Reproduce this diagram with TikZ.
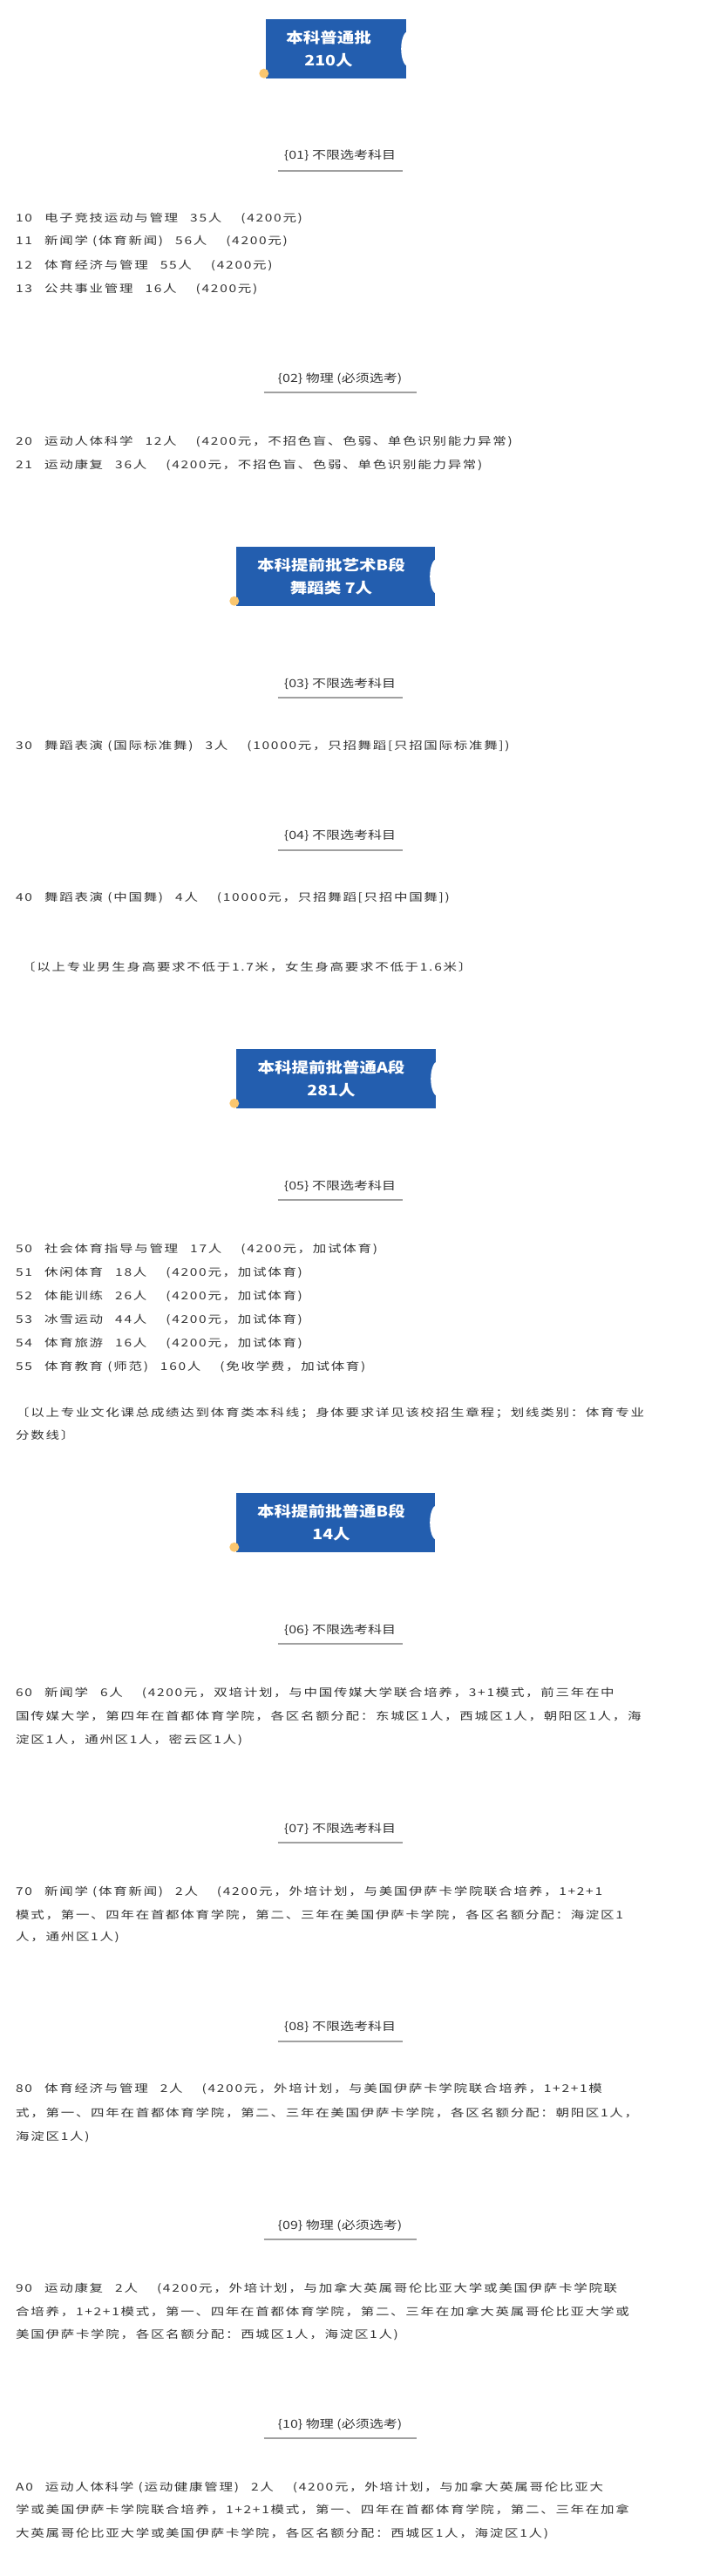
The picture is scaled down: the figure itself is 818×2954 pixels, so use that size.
\documentclass[tikz,border=0pt]{standalone}
\usepackage{fontspec}
\usepackage{graphicx}
\newfontfamily\cjkb[LetterSpace=11]{Noto Sans CJK SC}
\newfontfamily\cjk{Noto Sans CJK SC}
\definecolor{hblue}{RGB}{35,94,175}
\definecolor{dotc}{RGB}{250,198,110}
\definecolor{txt}{RGB}{51,51,51}
\definecolor{rule}{RGB}{160,160,160}
\tikzset{
 body/.style={anchor=west,inner sep=0pt,text=txt,font=\cjkb\fontsize{15.5}{18}\selectfont},
 sub/.style={inner sep=0pt,text=txt,font=\cjk\fontsize{16}{18}\selectfont},
 hbox/.style={fill=hblue,inner sep=0pt},
 htxt/.style={inner sep=0pt,text=white,align=center,font=\cjk\bfseries\fontsize{19.5}{28}\selectfont},
 uline/.style={draw=rule,line width=1.3pt},
}
\newcommand\tl[3]{\node[body] (#1) at (18,#2) {\scalebox{1}[0.79]{#3}};}
\newcommand\gapa{\hspace{14pt}}
\newcommand\gapb{\hspace{22pt}}
\newcommand\hd[7]{% name, cx, cy, w, textcx, line1, line2
 \node[hbox,minimum width=#4pt,minimum height=68pt] (#1) at (#2,#3) {};
 \fill[white] (#1.east) ++(2,0) ellipse [x radius=8, y radius=20];
 \fill[dotc] (#1.south west) ++(-2,-6) circle [radius=5.5];
 \node[htxt] (#1t) at (#5,#3) {\scalebox{1}[0.85]{#6}\\[-2pt]\scalebox{1}[0.85]{#7}};}
\newcommand\sh[5]{% name, y text, y line, halfwidth, text
 \node[sub] (#1) at (390,#2) {\scalebox{1}[0.8]{#5}};
 \coordinate (#1a) at (390-#4,#3); \coordinate (#1b) at (390+#4,#3);
 \draw[uline] (#1a) -- (#1b);}
\begin{document}
\begin{tikzpicture}[x=1pt,y=-1pt]
\useasboundingbox (0,0) rectangle (818,2954);
\hd{h1}{385.5}{56}{161}{377}{本科普通批}{210人}
\sh{s1}{178}{196}{71.5}{\{01\} 不限选考科目}
\tl{a1}{251}{10\gapa 电子竞技运动与管理\gapa 35人\gapb (4200元)}
\tl{a2}{277}{11\gapa 新闻学 (体育新闻)\gapa 56人\gapb (4200元)}
\tl{a3}{305}{12\gapa 体育经济与管理\gapa 55人\gapb (4200元)}
\tl{a4}{332}{13\gapa 公共事业管理\gapa 16人\gapb (4200元)}
\sh{s2}{434}{450}{87.5}{\{02\} 物理 (必须选考)}
\tl{b1}{506}{20\gapa 运动人体科学\gapa 12人\gapb (4200元，不招色盲、色弱、单色识别能力异常)}
\tl{b2}{533}{21\gapa 运动康复\gapa 36人\gapb (4200元，不招色盲、色弱、单色识别能力异常)}
\hd{h2}{385}{661}{228}{380}{本科提前批艺术B段}{舞蹈类 7人}
\sh{s3}{784}{800}{71.5}{\{03\} 不限选考科目}
\tl{c1}{856}{30\gapa 舞蹈表演 (国际标准舞)\gapa 3人\gapb (10000元，只招舞蹈[只招国际标准舞])}
\sh{s4}{958}{975}{71.5}{\{04\} 不限选考科目}
\tl{d1}{1030}{40\gapa 舞蹈表演 (中国舞)\gapa 4人\gapb (10000元，只招舞蹈[只招中国舞])}
\node[body] (n1) at (25,1109) {\scalebox{1}[0.79]{〔以上专业男生身高要求不低于1.7米，女生身高要求不低于1.6米〕}};
\hd{h3}{385.5}{1237}{229}{380}{本科提前批普通A段}{281人}
\sh{s5}{1360}{1376}{71.5}{\{05\} 不限选考科目}
\tl{e1}{1432}{50\gapa 社会体育指导与管理\gapa 17人\gapb (4200元，加试体育)}
\tl{e2}{1459}{51\gapa 休闲体育\gapa 18人\gapb (4200元，加试体育)}
\tl{e3}{1486}{52\gapa 体能训练\gapa 26人\gapb (4200元，加试体育)}
\tl{e4}{1513}{53\gapa 冰雪运动\gapa 44人\gapb (4200元，加试体育)}
\tl{e5}{1540}{54\gapa 体育旅游\gapa 16人\gapb (4200元，加试体育)}
\tl{e6}{1567}{55\gapa 体育教育 (师范)\gapa 160人\gapb (免收学费，加试体育)}
\tl{n2}{1620}{〔以上专业文化课总成绩达到体育类本科线；身体要求详见该校招生章程；划线类别：体育专业}
\tl{n3}{1646}{分数线〕}
\hd{h4}{385}{1746}{228}{380}{本科提前批普通B段}{14人}
\sh{s6}{1869}{1885}{71.5}{\{06\} 不限选考科目}
\tl{f1}{1941}{60\gapa 新闻学\gapa 6人\gapb (4200元，双培计划，与中国传媒大学联合培养，3+1模式，前三年在中}
\tl{f2}{1968}{国传媒大学，第四年在首都体育学院，各区名额分配：东城区1人，西城区1人，朝阳区1人，海}
\tl{f3}{1995}{淀区1人，通州区1人，密云区1人)}
\sh{s7}{2097}{2113}{71.5}{\{07\} 不限选考科目}
\tl{g1}{2169}{70\gapa 新闻学 (体育新闻)\gapa 2人\gapb (4200元，外培计划，与美国伊萨卡学院联合培养，1+2+1}
\tl{g2}{2196}{模式，第一、四年在首都体育学院，第二、三年在美国伊萨卡学院，各区名额分配：海淀区1}
\tl{g3}{2222}{人，通州区1人)}
\sh{s8}{2324}{2341}{71.5}{\{08\} 不限选考科目}
\tl{k1}{2395}{80\gapa 体育经济与管理\gapa 2人\gapb (4200元，外培计划，与美国伊萨卡学院联合培养，1+2+1模}
\tl{k2}{2423}{式，第一、四年在首都体育学院，第二、三年在美国伊萨卡学院，各区名额分配：朝阳区1人，}
\tl{k3}{2450}{海淀区1人)}
\sh{s9}{2552}{2568}{87.5}{\{09\} 物理 (必须选考)}
\tl{m1}{2624}{90\gapa 运动康复\gapa 2人\gapb (4200元，外培计划，与加拿大英属哥伦比亚大学或美国伊萨卡学院联}
\tl{m2}{2651}{合培养，1+2+1模式，第一、四年在首都体育学院，第二、三年在加拿大英属哥伦比亚大学或}
\tl{m3}{2677}{美国伊萨卡学院，各区名额分配：西城区1人，海淀区1人)}
\sh{s10}{2780}{2796}{87.5}{\{10\} 物理 (必须选考)}
\tl{p1}{2852}{A0\gapa 运动人体科学 (运动健康管理)\gapa 2人\gapb (4200元，外培计划，与加拿大英属哥伦比亚大}
\tl{p2}{2878}{学或美国伊萨卡学院联合培养，1+2+1模式，第一、四年在首都体育学院，第二、三年在加拿}
\tl{p3}{2905}{大英属哥伦比亚大学或美国伊萨卡学院，各区名额分配：西城区1人，海淀区1人)}
\end{tikzpicture}
\end{document}
